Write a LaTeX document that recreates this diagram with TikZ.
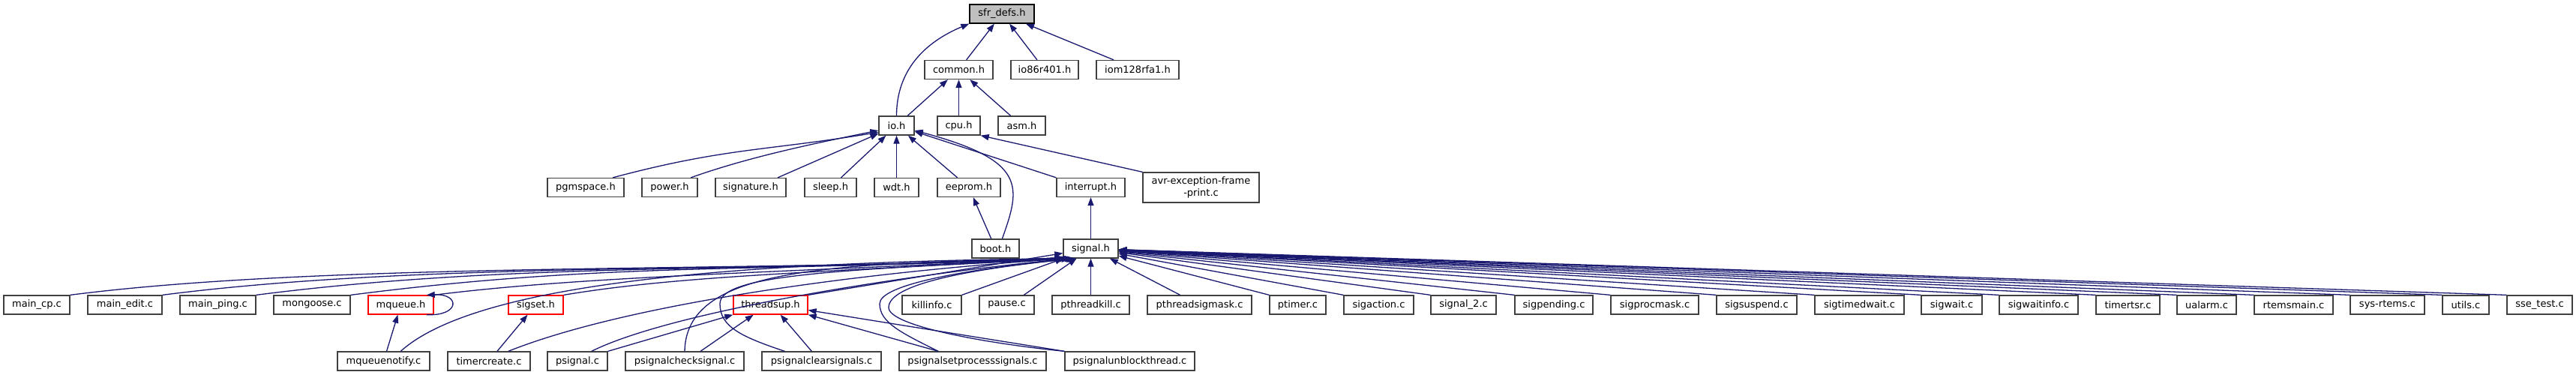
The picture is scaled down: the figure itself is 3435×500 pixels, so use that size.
\documentclass[tikz,border=0pt]{standalone}
\usepackage{fontspec}
\setmainfont{DejaVu Sans}
\usetikzlibrary{arrows.meta}
\definecolor{edgeblue}{HTML}{191970}
\definecolor{boxgray}{HTML}{404040}
\definecolor{rootgray}{HTML}{BFBFBF}

\begin{document}
\begin{tikzpicture}[x=1pt, y=-1pt, >={Triangle[length=11pt,width=8pt]},
    file/.style={draw=boxgray, line width=1.3pt, minimum height=25, inner sep=0pt,
      font=\fontsize{13}{16}\selectfont},
    trunc/.style={file, draw=red},
    root/.style={file, draw=black, fill=rootgray},
    dep/.style={draw=edgeblue, line width=1.3pt, <-}]
    \useasboundingbox (0,0) rectangle (3435,500);

    % headers
    \node[root, minimum width=86]  (sfr)    at (1336,18.5)   {sfr\_defs.h};
    \node[file, minimum width=91]  (common) at (1278.5,93)   {common.h};
    \node[file, minimum width=90]  (io86)   at (1393,93)     {io86r401.h};
    \node[file, minimum width=110] (iom128) at (1517,93)     {iom128rfa1.h};
    \node[file, minimum width=47]  (ioh)    at (1195.5,167.5) {io.h};
    \node[file, minimum width=57]  (cpu)    at (1278.5,167.5) {cpu.h};
    \node[file, minimum width=63]  (asm)    at (1362.5,167.5) {asm.h};
    \foreach \n/\x/\w in {pgmspace/781/102, power/893/74, signature/1001/94, sleep/1107.5/69,
        wdt/1195.5/59, eeprom/1292/84, interrupt/1454.5/91}
      {\node[file, minimum width=\w] (\n) at (\x,250) {\n.h};};
    \node[file, minimum width=155, minimum height=40, align=center] (avr) at (1601.5,250)
      {avr-exception-frame\\-print.c};
    \node[file, minimum width=63] (boot)   at (1327.5,331.5) {boot.h};
    \node[file, minimum width=73] (signal) at (1454.5,331.5) {signal.h};

    % sources
    \foreach \n/\x/\w/\lbl in {maincp/49/88/main\_cp.c, mainedit/166.5/99/main\_edit.c,
        mainping/290.5/101/main\_ping.c, mongoose/416/102/mongoose.c,
        killinfo/1242.5/79/killinfo.c, pause/1342.5/73/pause.c,
        pthreadkill/1454.5/103/pthreadkill.c, pthreadsigmask/1599.5/139/pthreadsigmask.c,
        ptimer/1730.5/75/ptimer.c, sigaction/1838.5/93/sigaction.c,
        signaltwo/1951.5/87/signal\_2.c, sigpending/2072/104/sigpending.c,
        sigprocmask/2206.5/117/sigprocmask.c, sigsuspend/2342.5/107/sigsuspend.c,
        sigtimedwait/2479.5/119/sigtimedwait.c, sigwait/2602.5/81/sigwait.c,
        sigwaitinfo/2718.5/105/sigwaitinfo.c, timertsr/2837.5/85/timertsr.c,
        ualarm/2942.5/79/ualarm.c, rtemsmain/3058.5/105/rtemsmain.c,
        sys-rtems/3183.5/99/sys-rtems.c, utils/3288/62/utils.c, ssetest/3386.5/87/sse\_test.c}
      {\node[file, minimum width=\w] (\n) at (\x,406.5) {\lbl};};
    \node[trunc, minimum width=87] (mqueue)    at (534.5,406.5)  {mqueue.h};
    \node[trunc, minimum width=73] (sigset)    at (714.5,406.5)  {sigset.h};
    \node[trunc, minimum width=99] (threadsup) at (1027.5,406.5) {threadsup.h};
    \foreach \n/\x/\w in {mqueuenotify/511.5/123, timercreate/652/110, psignal/770/80,
        psignalchecksignal/913/158, psignalclearsignals/1095.5/159,
        psignalsetprocesssignals/1297/196, psignalunblockthread/1506.5/173}
      {\node[file, minimum width=\w] (\n) at (\x,481.5) {\n.c};};

    % upper part
    \draw[dep] (sfr.south west) .. controls +(-60,25) and +(0,-60) .. (ioh.north);
    \path (sfr)    edge[dep] (common)
          (sfr)    edge[dep] (io86)
          (sfr)    edge[dep] (iom128)
          (common) edge[dep] (ioh)
          (common) edge[dep] (cpu)
          (common) edge[dep] (asm)
          (cpu.south east) edge[dep] (avr.north west);
    \draw[dep] (ioh.200) .. controls +(-150,25) and +(150,-40) .. (pgmspace.20);
    \draw[dep] (ioh.195) .. controls +(-100,20) and +(70,-25) .. (power.25);
    \path (ioh) edge[dep] (signature.20)
          (ioh) edge[dep] (sleep)
          (ioh) edge[dep] (wdt)
          (ioh) edge[dep] (eeprom)
          (ioh) edge[dep] (interrupt.north west)
          (eeprom) edge[dep] (boot)
          (interrupt) edge[dep] (signal);
    \draw[dep] (ioh.-15) .. controls +(150,40) and +(25,-70) .. (boot.56);

    % signal.h
    \foreach \n in {maincp, mainedit, mainping, mongoose}
      {\draw[dep] (signal.198) .. controls +(-400,20) and +(350,-45) .. (\n.north east);};
    \draw[dep] (signal.199) .. controls +(-400,20) and +(200,-25) .. (mqueue.north east);
    \draw[dep] (mqueue.21) .. controls +(45,-2) and +(45,2) .. (mqueue.-21);
    \draw[dep] (signal.199) .. controls +(-350,20) and +(150,-25) .. (sigset.north east);
    \draw[dep] (signal.201) .. controls +(-450,5) and +(100,-90) .. (mqueuenotify.30);
    \draw[dep] (signal.203) .. controls +(-300,20) and +(150,-60) .. (timercreate.27);
    \draw[dep] (signal.205) .. controls +(-250,25) and +(100,-50) .. (psignal.35);
    \draw[dep] (signal.207) .. controls +(-338,6) and +(2,-109) .. (psignalchecksignal.north);
    \draw[dep] (signal.209) .. controls +(-300,15) and +(0,-40) .. (960,405)
                            .. controls +(0,30) and +(-60,-20) .. (psignalclearsignals.165);
    \draw[dep] (signal.211) .. controls +(-150,15) and +(0,-25) .. (1173,405)
                            .. controls +(0,25) and +(-50,-25) .. (psignalsetprocesssignals.164);
    \draw[dep] (signal.213) .. controls +(-150,15) and +(0,-30) .. (1185,410)
                            .. controls +(0,25) and +(-100,-10) .. (psignalunblockthread.north west);
    \path (signal) edge[dep] (threadsup.north east)
          (signal) edge[dep] (killinfo.north east)
          (signal) edge[dep] (pause.30)
          (signal) edge[dep] (pthreadkill)
          (signal) edge[dep] (pthreadsigmask.153);
    \foreach \n in {ptimer, sigaction, signaltwo, sigpending, sigprocmask, sigsuspend,
        sigtimedwait, sigwait, sigwaitinfo, timertsr, ualarm, rtemsmain, sys-rtems, utils, ssetest}
      {\path (signal) edge[dep] (\n.north west);};

    % lower part
    \path (mqueue) edge[dep] (mqueuenotify)
          (sigset) edge[dep] (timercreate)
          (threadsup.south west) edge[dep] (psignal.north east)
          (threadsup.210)        edge[dep] (psignalchecksignal.32)
          (threadsup.-45)        edge[dep] (psignalclearsignals.135)
          (threadsup.south east) edge[dep] (psignalsetprocesssignals.164)
          (threadsup.-8)         edge[dep] (psignalunblockthread.north west);
\end{tikzpicture}
\end{document}
